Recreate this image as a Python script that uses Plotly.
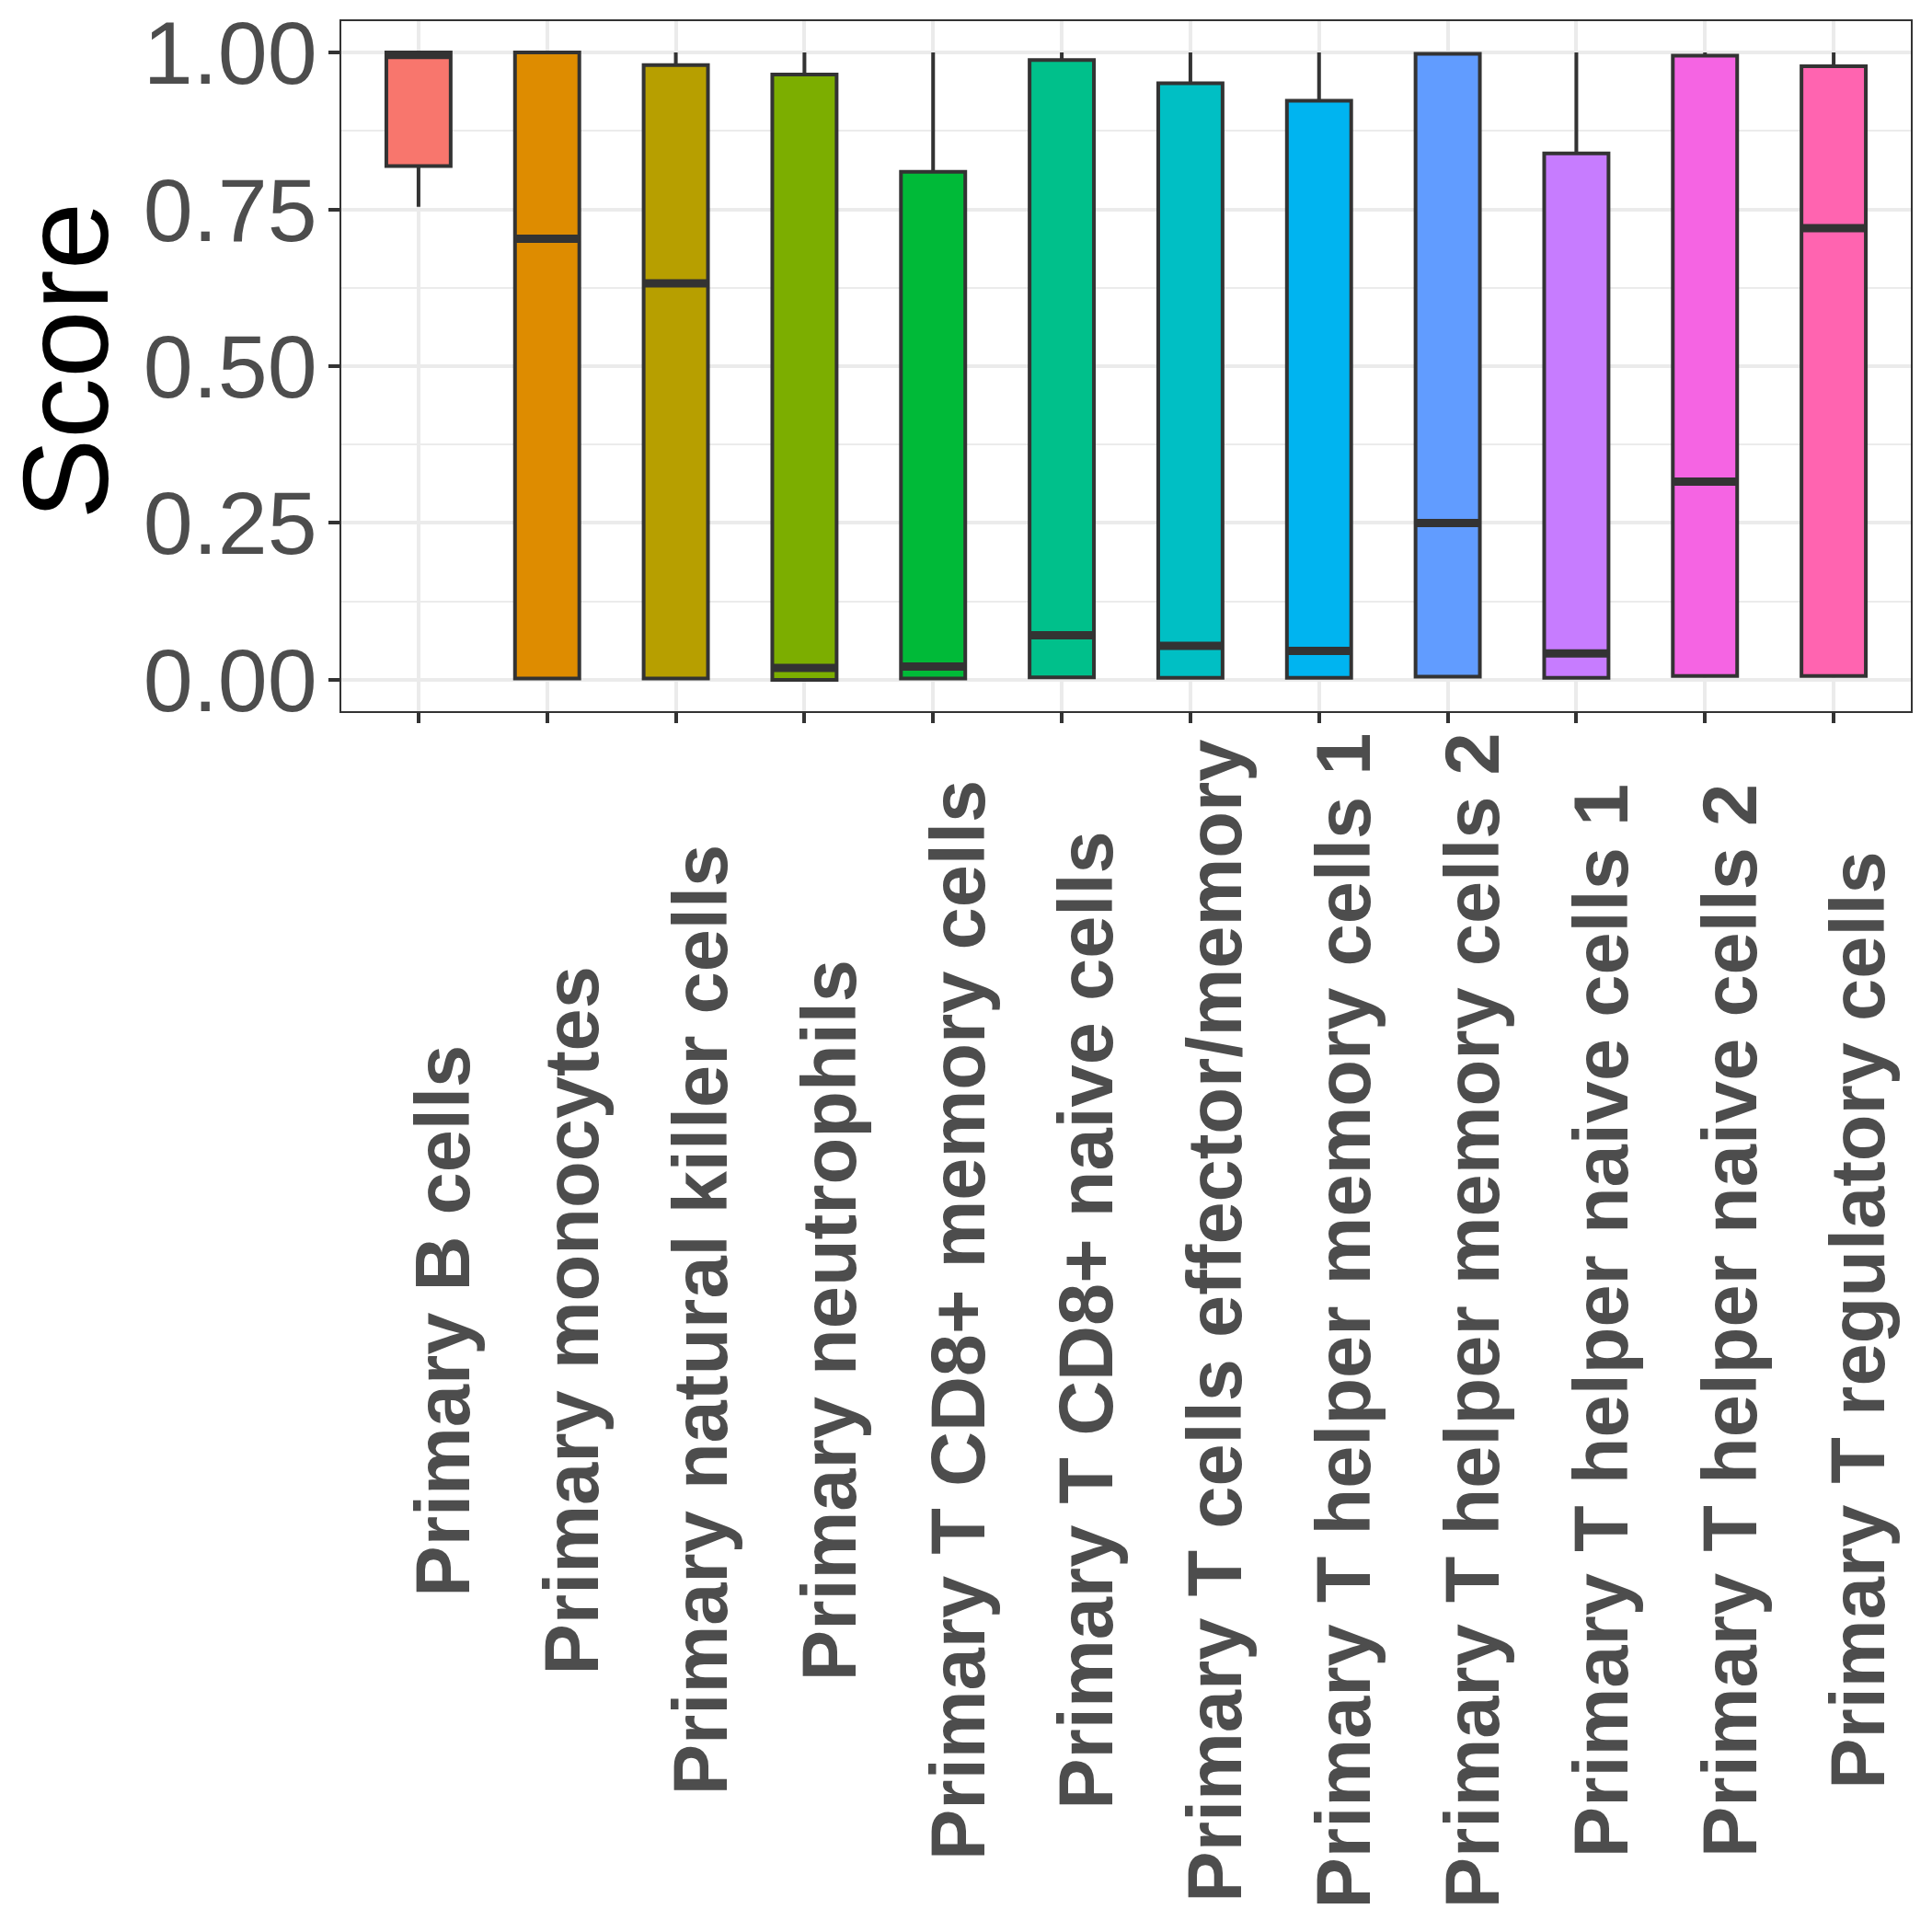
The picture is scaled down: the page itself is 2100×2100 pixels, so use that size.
import plotly.graph_objects as go

categories = [
    "Primary B cells",
    "Primary monocytes",
    "Primary natural killer cells",
    "Primary neutrophils",
    "Primary T CD8+ memory cells",
    "Primary T CD8+ naive cells",
    "Primary T cells effector/memory",
    "Primary T helper memory cells 1",
    "Primary T helper memory cells 2",
    "Primary T helper naive cells 1",
    "Primary T helper naive cells 2",
    "Primary T regulatory cells",
]

q1 = [0.819, 0.002, 0.002, 0.000, 0.002, 0.004, 0.003, 0.003, 0.005, 0.003, 0.006, 0.006]
median = [0.996, 0.703, 0.632, 0.019, 0.021, 0.071, 0.054, 0.046, 0.250, 0.042, 0.316, 0.720]
q3 = [1.000, 1.000, 0.980, 0.965, 0.810, 0.988, 0.951, 0.923, 0.998, 0.839, 0.995, 0.978]
lower = [0.754, 0.002, 0.002, 0.000, 0.002, 0.004, 0.003, 0.003, 0.005, 0.003, 0.006, 0.006]
upper = [1.000, 1.000, 1.000, 1.000, 1.000, 1.000, 1.000, 1.000, 1.000, 1.000, 1.000, 1.000]

# ggplot default hue palette for 12 groups
colors = ["#F8766D", "#DE8C00", "#B79F00", "#7CAE00", "#00BA38", "#00C08B",
          "#00BFC4", "#00B4F0", "#619CFF", "#C77CFF", "#F564E3", "#FF64B0"]

dark = "#333333"
grid = "#EBEBEB"
font = "Liberation Sans, Arial, sans-serif"

fig = go.Figure()

for i in range(len(categories)):
    fig.add_trace(go.Box(
        x=[i], q1=[q1[i]], median=[median[i]], q3=[q3[i]],
        lowerfence=[lower[i]], upperfence=[upper[i]],
        width=0.5, whiskerwidth=0,
        fillcolor=colors[i],
        line=dict(color=dark, width=4),
        boxpoints=False, showlegend=False, hoverinfo="skip",
    ))
    # thicker median bar like ggplot
    fig.add_shape(type="line", x0=i - 0.25, x1=i + 0.25, y0=median[i], y1=median[i],
                  line=dict(color=dark, width=9), layer="above")
    # rotated category labels, centred vertically like the ggplot output
    fig.add_annotation(x=i, y=-0.883, xref="x", yref="paper",
                       text=categories[i], textangle=-90, showarrow=False,
                       xanchor="left", yanchor="middle", xshift=-22,
                       font=dict(size=83, color="#4D4D4D", family=font, weight="bold"))

# y axis title
fig.add_annotation(x=-0.176, y=0.508, xref="paper", yref="paper",
                   text="Score", textangle=-90, showarrow=False,
                   xanchor="center", yanchor="middle",
                   font=dict(size=132, color="black", family=font))

fig.update_layout(
    width=2100, height=2100,
    paper_bgcolor="white", plot_bgcolor="white",
    margin=dict(l=363, r=31, t=15, b=1335),
    font=dict(family=font),
    showlegend=False,
    xaxis=dict(
        range=[-0.6, 11.6],
        tickmode="array",
        tickvals=list(range(len(categories))),
        showticklabels=False,
        ticks="outside", ticklen=11, tickwidth=4, tickcolor=dark,
        showgrid=True, gridcolor=grid, gridwidth=3.5,
        zeroline=False,
        showline=True, linecolor=dark, linewidth=2, mirror=True,
        automargin=False,
    ),
    yaxis=dict(
        range=[-0.05, 1.05],
        tickvals=[0, 0.25, 0.5, 0.75, 1.0],
        ticktext=["0.00", "0.25", "0.50", "0.75", "1.00"],
        tickfont=dict(size=97, color="#4D4D4D", family=font),
        ticks="outside", ticklen=12, tickwidth=4, tickcolor=dark,
        ticklabelstandoff=-7, ticklabeloverflow="allow",
        showgrid=True, gridcolor=grid, gridwidth=3.5,
        minor=dict(dtick=0.125, tick0=0, showgrid=True, gridcolor=grid, gridwidth=1.8),
        zeroline=False,
        showline=True, linecolor=dark, linewidth=2, mirror=True,
        automargin=False,
    ),
)

fig.write_html("out.html")
